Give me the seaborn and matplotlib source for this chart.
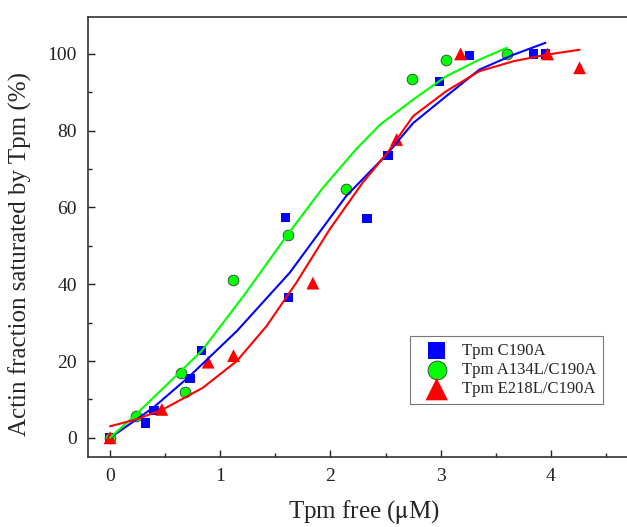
import numpy as np
import pandas as pd
import matplotlib
matplotlib.use("Agg")
import matplotlib.pyplot as plt
from matplotlib.ticker import MultipleLocator
import seaborn as sns

# measured points
c190a_x = [0.0, 0.32, 0.40, 0.725, 0.83, 1.59, 1.62, 2.33, 2.52, 2.99, 3.26, 3.84, 3.95]
c190a_y = [0.0, 3.9, 7.1, 15.4, 22.7, 57.4, 36.5, 57.1, 73.5, 92.8, 99.6, 100.0, 100.0]

a134l_x = [0.0, 0.24, 0.64, 0.68, 1.12, 1.61, 2.14, 2.74, 3.05, 3.60]
a134l_y = [0.0, 5.7, 17.0, 12.0, 41.0, 52.9, 64.8, 93.6, 98.5, 99.9]

e218l_x = [0.0, 0.47, 0.89, 1.12, 1.84, 2.60, 3.18, 3.97, 4.26]
e218l_y = [0.0, 7.4, 19.7, 21.4, 40.3, 77.7, 100.0, 100.0, 96.4]

# fitted curves
c190a_fit_x = [0.0, 0.39, 0.72, 1.15, 1.63, 2.14, 2.51, 2.75, 3.05, 3.35, 3.66, 3.95]
c190a_fit_y = [0.0, 7.8, 16.0, 27.8, 43.0, 62.9, 73.8, 82.0, 89.0, 95.9, 99.8, 102.9]

a134l_fit_x = [0.0, 0.25, 0.64, 0.83, 1.21, 1.61, 1.93, 2.23, 2.45, 2.75, 3.05, 3.35, 3.60]
a134l_fit_y = [0.0, 6.5, 17.3, 22.6, 36.9, 52.9, 65.1, 75.1, 81.6, 88.1, 94.2, 98.5, 101.6]

e218l_fit_x = [0.0, 0.24, 0.48, 0.84, 1.15, 1.42, 1.69, 1.99, 2.29, 2.51, 2.75, 3.05, 3.35, 3.66, 3.96, 4.26]
e218l_fit_y = [3.0, 4.8, 7.4, 13.0, 20.0, 29.1, 40.4, 54.2, 66.4, 74.0, 83.8, 90.3, 95.5, 98.1, 99.8, 101.1]

labels = ["Tpm C190A", "Tpm A134L/C190A", "Tpm E218L/C190A"]
colors = ["#0000FF", "#00FF00", "#FF0000"]

sns.set_style("ticks")
plt.rcParams['font.family'] = ['Liberation Serif', 'DejaVu Serif']
plt.rcParams['mathtext.fontset'] = 'stix'

fig = plt.figure(figsize=(6.27, 5.27), dpi=100)
ax = fig.add_axes([88 / 627, 70 / 527, 539 / 627, 440.3 / 527])

points = [
    (c190a_x, c190a_y, "s", 46, "none", 0.0),
    (a134l_x, a134l_y, "o", 60, "#3a3a3a", 0.6),
    (e218l_x, e218l_y, "^", 85, "none", 0.0),
]
fits = [
    (c190a_fit_x, c190a_fit_y),
    (a134l_fit_x, a134l_fit_y),
    (e218l_fit_x, e218l_fit_y),
]

for (px, py, mk, sz, ec, lw), lab, col in zip(points, labels, colors):
    df = pd.DataFrame({"x": px, "y": py})
    sns.scatterplot(data=df, x="x", y="y", marker=mk, s=sz, color=col,
                    edgecolor=ec, linewidth=lw, label=lab, ax=ax, zorder=3)

for (fx, fy), col in zip(fits, colors):
    df = pd.DataFrame({"x": fx, "y": fy})
    sns.lineplot(data=df, x="x", y="y", color=col, lw=1.5, sort=False,
                 legend=False, ax=ax, zorder=4)

ax.set_xlim(-0.2, 4.69)
ax.set_ylim(-5, 109.7)
ax.xaxis.set_major_locator(MultipleLocator(1))
ax.xaxis.set_minor_locator(MultipleLocator(0.5))
ax.yaxis.set_major_locator(MultipleLocator(20))
ax.yaxis.set_minor_locator(MultipleLocator(10))
ax.tick_params(which="both", direction="in", top=False, right=False,
               labelsize=14, width=1.0, colors="#222222", pad=8)
ax.tick_params(which="major", length=5)
ax.tick_params(which="minor", length=3)
for sp in ["left", "bottom", "top"]:
    ax.spines[sp].set_linewidth(1.2)
    ax.spines[sp].set_color("#333333")
ax.spines["right"].set_visible(False)

ax.set_xlabel("Tpm free ($\\mathrm{\\mu}$M)", fontsize=18)
ax.set_ylabel("Actin fraction saturated by Tpm (%)", fontsize=18)
ax.xaxis.set_label_coords(0.511, -0.094)
ax.yaxis.set_label_coords(-0.104, 0.462)

leg = ax.legend(loc="lower right", bbox_to_anchor=(0.955, 0.12), fontsize=12,
                markerscale=1.75, frameon=True, fancybox=False,
                handletextpad=0.3, borderpad=0.4, labelspacing=0.2,
                handlelength=2.4, borderaxespad=0)
leg.get_frame().set_edgecolor("#555555")
leg.get_frame().set_linewidth(0.8)

fig.savefig("out.png", dpi=100)
